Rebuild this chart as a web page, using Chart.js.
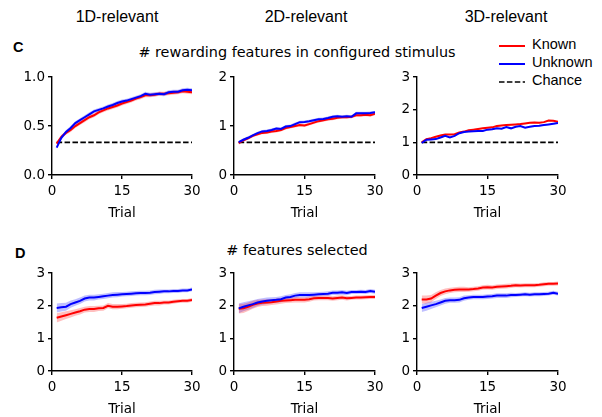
<!DOCTYPE html>
<html>
<head>
<meta charset="utf-8">
<script src="https://cdn.jsdelivr.net/npm/chart.js@4/dist/chart.umd.min.js"></script>
<style>
  html, body { margin:0; padding:0; background:#fff; }
  body { width:602px; height:417px; position:relative; overflow:hidden; }
  canvas { position:absolute; }
  .t { position:absolute; white-space:nowrap; color:#000; }
  .col { font-family:"Liberation Sans", Arial, sans-serif; font-size:16px; line-height:16px; top:8.5px; transform:translateX(-50%); }
  .ttl { font-family:"DejaVu Sans", sans-serif; font-size:14.4px; line-height:14.4px; transform:translateX(-50%); }
  .lab { font-family:"Liberation Sans", Arial, sans-serif; font-weight:bold; font-size:14.5px; line-height:14.5px; }
  .leg { font-family:"Liberation Sans", Arial, sans-serif; font-size:14.5px; line-height:14.5px; left:532px; }
</style>
</head>
<body>
<div class="t col" style="left:117px">1D-relevant</div>
<div class="t col" style="left:306px">2D-relevant</div>
<div class="t col" style="left:506px">3D-relevant</div>
<div class="t lab" style="left:13px; top:40px">C</div>
<div class="t ttl" style="left:297px; top:45px"># rewarding features in configured stimulus</div>
<div class="t lab" style="left:15px; top:246px">D</div>
<div class="t ttl" style="left:297px; top:243px"># features selected</div>
<svg style="position:absolute; left:499px; top:40px" width="28" height="48">
  <line x1="0" y1="6" x2="26" y2="6" stroke="#ff0000" stroke-width="2"/>
  <line x1="0" y1="24" x2="26" y2="24" stroke="#0000ff" stroke-width="2"/>
  <line x1="0" y1="42" x2="26" y2="42" stroke="#000" stroke-width="1.6" stroke-dasharray="5.5,2.4"/>
</svg>
<div class="t leg" style="top:36.5px">Known</div>
<div class="t leg" style="top:54.5px">Unknown</div>
<div class="t leg" style="top:72.5px">Chance</div>

<canvas id="c1"></canvas><canvas id="c2"></canvas><canvas id="c3"></canvas>
<canvas id="d1"></canvas><canvas id="d2"></canvas><canvas id="d3"></canvas>

<script>
// ---------- data ----------
const trials = [1,2,3,4,5,6,7,8,9,10,11,12,13,14,15,16,17,18,19,20,21,22,23,24,25,26,27,28,29,30];
const xTicks = [0, 15, 30];
const panelTitles = ["1D-relevant", "2D-relevant", "3D-relevant"];
const seriesNames = ["Known", "Unknown", "Chance"];

// C: # rewarding features in configured stimulus
const c1Known   = [0.32,0.39,0.43,0.46,0.50,0.53,0.56,0.59,0.61,0.64,0.66,0.68,0.695,0.71,0.73,0.745,0.76,0.78,0.795,0.815,0.815,0.82,0.83,0.83,0.835,0.84,0.845,0.855,0.85,0.845];
const c1Unknown = [0.28,0.38,0.44,0.48,0.53,0.56,0.59,0.62,0.65,0.665,0.68,0.70,0.715,0.735,0.75,0.76,0.775,0.79,0.805,0.83,0.82,0.825,0.83,0.825,0.845,0.85,0.85,0.865,0.87,0.865];
const c2Known   = [0.65,0.71,0.75,0.80,0.83,0.86,0.87,0.89,0.90,0.92,0.96,0.98,1.00,1.02,1.01,1.04,1.07,1.10,1.12,1.14,1.15,1.17,1.18,1.18,1.19,1.22,1.22,1.23,1.22,1.25];
const c2Unknown = [0.67,0.72,0.76,0.81,0.855,0.89,0.90,0.92,0.95,0.94,0.99,1.00,1.04,1.08,1.085,1.10,1.12,1.14,1.145,1.165,1.19,1.20,1.19,1.20,1.19,1.26,1.26,1.26,1.265,1.28];
const c3Known   = [1.00,1.10,1.13,1.17,1.21,1.24,1.24,1.25,1.30,1.33,1.37,1.39,1.41,1.43,1.45,1.46,1.50,1.52,1.53,1.54,1.55,1.56,1.58,1.60,1.61,1.60,1.62,1.67,1.66,1.63];
const c3Unknown = [0.98,1.08,1.09,1.10,1.15,1.20,1.15,1.20,1.28,1.32,1.33,1.34,1.35,1.35,1.39,1.40,1.43,1.42,1.47,1.43,1.48,1.50,1.45,1.48,1.50,1.51,1.53,1.55,1.57,1.59];
const chanceLevels = [0.333, 0.667, 1.0];

// D: # features selected
const d1Known   = [1.63,1.67,1.71,1.75,1.79,1.83,1.88,1.90,1.90,1.92,1.93,2.00,1.97,1.97,1.98,1.99,2.01,2.02,2.03,2.04,2.06,2.08,2.08,2.10,2.10,2.12,2.14,2.15,2.15,2.18];
const d1Unknown = [1.93,1.95,1.97,2.05,2.10,2.15,2.22,2.25,2.25,2.27,2.29,2.31,2.33,2.34,2.35,2.36,2.37,2.38,2.39,2.39,2.40,2.42,2.43,2.44,2.44,2.45,2.45,2.47,2.47,2.50];
const d2Known   = [1.91,1.92,1.97,2.03,2.07,2.09,2.10,2.11,2.13,2.15,2.16,2.17,2.18,2.18,2.18,2.20,2.23,2.24,2.24,2.24,2.22,2.24,2.25,2.23,2.24,2.25,2.25,2.26,2.27,2.27];
const d2Unknown = [1.92,1.97,2.01,2.05,2.10,2.13,2.15,2.17,2.18,2.20,2.25,2.27,2.31,2.33,2.33,2.33,2.34,2.35,2.36,2.37,2.40,2.40,2.41,2.39,2.42,2.42,2.43,2.42,2.45,2.43];
const d3Known   = [2.19,2.19,2.22,2.31,2.39,2.44,2.47,2.49,2.50,2.50,2.50,2.51,2.53,2.56,2.57,2.56,2.58,2.59,2.60,2.61,2.63,2.62,2.63,2.63,2.63,2.64,2.66,2.67,2.67,2.68];
const d3Unknown = [1.93,1.97,2.01,2.05,2.10,2.15,2.17,2.17,2.18,2.23,2.25,2.27,2.27,2.27,2.28,2.29,2.31,2.31,2.31,2.33,2.33,2.34,2.35,2.34,2.35,2.35,2.36,2.37,2.40,2.37];

// half-widths of the shaded error bands
const errC1 = [0.02,0.02,0.02,0.02,0.02,0.02,0.02,0.02,0.02,0.02,0.02,0.02,0.02,0.02,0.02,0.02,0.02,0.02,0.02,0.02,0.02,0.02,0.02,0.02,0.02,0.02,0.02,0.02,0.02,0.02];
const errC2 = [0.03,0.03,0.03,0.03,0.03,0.03,0.03,0.03,0.03,0.03,0.03,0.03,0.03,0.03,0.03,0.03,0.03,0.03,0.03,0.03,0.03,0.03,0.03,0.03,0.03,0.03,0.03,0.03,0.03,0.03];
const errC3 = [0.02,0.02,0.02,0.02,0.02,0.02,0.02,0.02,0.02,0.02,0.02,0.02,0.02,0.02,0.02,0.02,0.02,0.02,0.02,0.02,0.02,0.02,0.02,0.02,0.02,0.02,0.02,0.02,0.02,0.02];
const errD1 = [0.14,0.13,0.12,0.11,0.10,0.10,0.09,0.09,0.09,0.08,0.08,0.08,0.08,0.08,0.07,0.07,0.07,0.07,0.07,0.07,0.07,0.07,0.07,0.06,0.06,0.06,0.06,0.06,0.06,0.06];
const errD2 = [0.15,0.14,0.13,0.12,0.11,0.10,0.10,0.09,0.09,0.09,0.08,0.08,0.08,0.08,0.08,0.08,0.07,0.07,0.07,0.07,0.07,0.07,0.07,0.07,0.06,0.06,0.06,0.06,0.06,0.06];
const errD3 = [0.12,0.12,0.11,0.10,0.09,0.09,0.08,0.08,0.08,0.08,0.07,0.07,0.07,0.07,0.07,0.07,0.07,0.07,0.07,0.07,0.06,0.06,0.06,0.06,0.06,0.06,0.06,0.06,0.06,0.06];

// ---------- styling / layout ----------
const RED = '#ff0000', BLUE = '#0000ff';
const RED_BAND = 'rgba(255,0,0,0.25)', BLUE_BAND = 'rgba(0,0,255,0.25)';
const Y_AXIS_W = 45, X_AXIS_H = 47, PAD_TOP = 10, PAD_RIGHT = 14;
const TICK_FONT = { family: 'DejaVu Sans', size: 13.5 };

Chart.defaults.color = '#000';
Chart.defaults.font.family = 'DejaVu Sans';

function pts(vals, err, sign) {
  return trials.map((t, i) => ({ x: t, y: vals[i] + (err ? sign * err[i] : 0) }));
}
function bandAndLine(vals, err, color, band, name, lineOrder) {
  return [
    { label: name + ' upper', data: pts(vals, err, 1), borderWidth: 0, pointRadius: 0, fill: false, order: 20 },
    { label: name + ' lower', data: pts(vals, err, -1), borderWidth: 0, pointRadius: 0, fill: '-1', backgroundColor: band, order: 20 },
    { label: name, data: pts(vals, null, 0), borderColor: color, borderWidth: 2, pointRadius: 0, fill: false, order: lineOrder }
  ];
}

function makePanel(id, left, top, plotW, plotH, known, unknown, errArr, yMax, yStep, decimals, chance) {
  const cv = document.getElementById(id);
  const W = Y_AXIS_W + plotW + PAD_RIGHT, H = PAD_TOP + plotH + X_AXIS_H;
  cv.width = W; cv.height = H;
  cv.style.left = (left - Y_AXIS_W) + 'px';
  cv.style.top = (top - PAD_TOP) + 'px';
  cv.style.width = W + 'px'; cv.style.height = H + 'px';
  let datasets = []
    .concat(bandAndLine(known, errArr, RED, RED_BAND, seriesNames[0], 2))
    .concat(bandAndLine(unknown, errArr, BLUE, BLUE_BAND, seriesNames[1], 1));
  if (chance !== null) {
    datasets.push({ label: seriesNames[2], data: [{ x: trials[0], y: chance }, { x: trials[trials.length - 1], y: chance }],
      borderColor: '#000', borderWidth: 1.6, borderDash: [5.5, 2.4], pointRadius: 0, fill: false, order: 5 });
  }
  const axisCommon = {
    border: { display: true, color: '#000', width: 1.4 },
    grid: { display: true, drawOnChartArea: false, drawTicks: true, tickLength: 4, color: '#000', lineWidth: 1.4 },
  };
  new Chart(cv, {
    type: 'line',
    data: { datasets },
    options: {
      responsive: false, animation: false, devicePixelRatio: 1,
      layout: { padding: { top: PAD_TOP, right: PAD_RIGHT, left: 0, bottom: 0 } },
      plugins: { legend: { display: false }, tooltip: { enabled: false } },
      scales: {
        x: Object.assign({}, axisCommon, {
          type: 'linear', min: xTicks[0], max: xTicks[xTicks.length - 1],
          afterBuildTicks: s => { s.ticks = xTicks.map(v => ({ value: v })); },
          afterFit: s => { s.height = X_AXIS_H; },
          ticks: { font: TICK_FONT, padding: 4, maxRotation: 0 },
          title: { display: true, text: 'Trial', font: TICK_FONT, padding: { top: 0, bottom: 0 } }
        }),
        y: Object.assign({}, axisCommon, {
          type: 'linear', min: 0, max: yMax,
          afterFit: s => { s.width = Y_AXIS_W; },
          ticks: { font: TICK_FONT, stepSize: yStep, padding: 3, callback: v => Number(v).toFixed(decimals) }
        })
      }
    }
  });
}

makePanel('c1', 52, 76, 140, 99, c1Known, c1Unknown, errC1, 1, 0.5, 1, chanceLevels[0]);
makePanel('c2', 234, 76, 141, 99, c2Known, c2Unknown, errC2, 2, 1, 0, chanceLevels[1]);
makePanel('c3', 417, 76, 141, 99, c3Known, c3Unknown, errC3, 3, 1, 0, chanceLevels[2]);
makePanel('d1', 52, 272, 140, 99, d1Known, d1Unknown, errD1, 3, 1, 0, null);
makePanel('d2', 234, 272, 141, 99, d2Known, d2Unknown, errD2, 3, 1, 0, null);
makePanel('d3', 417, 272, 141, 99, d3Known, d3Unknown, errD3, 3, 1, 0, null);
</script>
</body>
</html>
